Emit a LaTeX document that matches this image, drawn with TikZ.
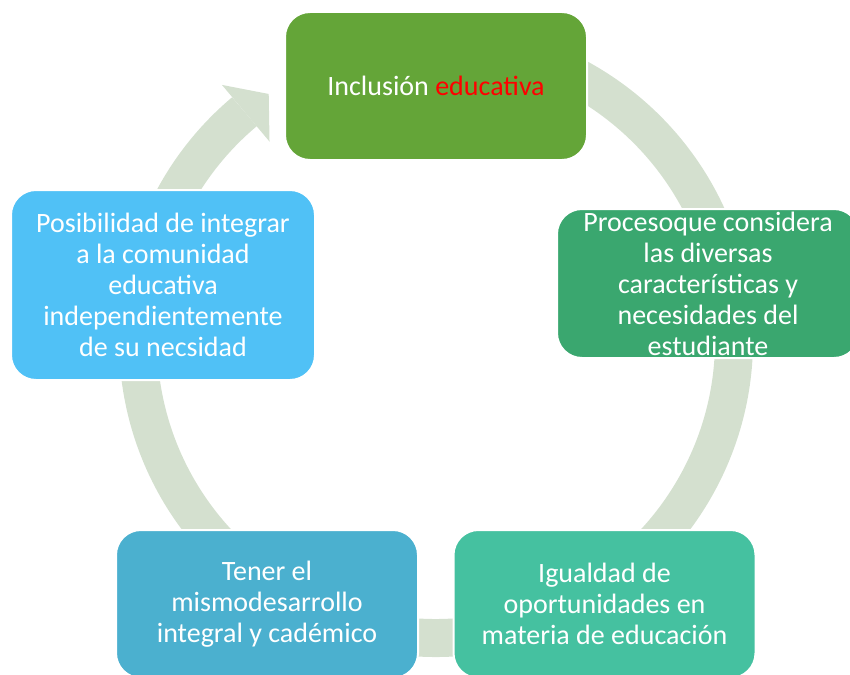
\documentclass[tikz,border=0pt]{standalone}
\usepackage{fontspec}
\setmainfont{Carlito}
\usepackage{tikz}
\usetikzlibrary{calc}

\definecolor{ringgray}{RGB}{212,224,207}
\definecolor{topgreen}{RGB}{100,165,56}
\definecolor{midgreen}{RGB}{58,167,111}
\definecolor{seagreen}{RGB}{69,193,160}
\definecolor{tealblue}{RGB}{75,176,207}
\definecolor{skyblue}{RGB}{80,193,246}

\begin{document}
\begin{tikzpicture}[x=1pt,y=1pt]
      \tikzset{
        stage/.style={draw=white, line width=2pt, rectangle, rounded corners=25pt, text=white,
          align=center, minimum width=302pt, minimum height=148pt, inner sep=2pt,
          font=\fontsize{28}{31}\selectfont},
        ring/.style={draw=ringgray, line width=38pt},
        head/.style={fill=ringgray},
      }
      \useasboundingbox (0,0) rectangle (850,-674);
      \coordinate (c) at (436,-340);

      % cycle ring, clockwise from the top
      \path [ring] ($(c)+(95:298)$) arc[start angle=95, end angle=-230, radius=298];
      \path [head] ($(c)+(130:259)$) -- ($(c)+(130:333)$) -- ($(c)+(130:296)+(40:30)$) -- cycle;

      \node [stage, fill=topgreen] (incl) at (436,-86) {Inclusión \textcolor{red}{educativa}};
      \node [stage, fill=midgreen, minimum height=149pt] (proc) at (708,-283.5)
        {Procesoque considera\\las diversas\\características y\\necesidades del\\estudiante};
      \node [stage, fill=seagreen] (igual) at (604.5,-604) {Igualdad de\\oportunidades en\\materia de educación};
      \node [stage, fill=tealblue] (tener) at (267,-604) {Tener el\\mismodesarrollo\\integral y cadémico};
      \node [stage, fill=skyblue, minimum width=304pt, minimum height=190pt] (posib) at (163,-285)
        {Posibilidad de integrar\\a la comunidad\\educativa\\independientemente\\de su necsidad};
\end{tikzpicture}
\end{document}
